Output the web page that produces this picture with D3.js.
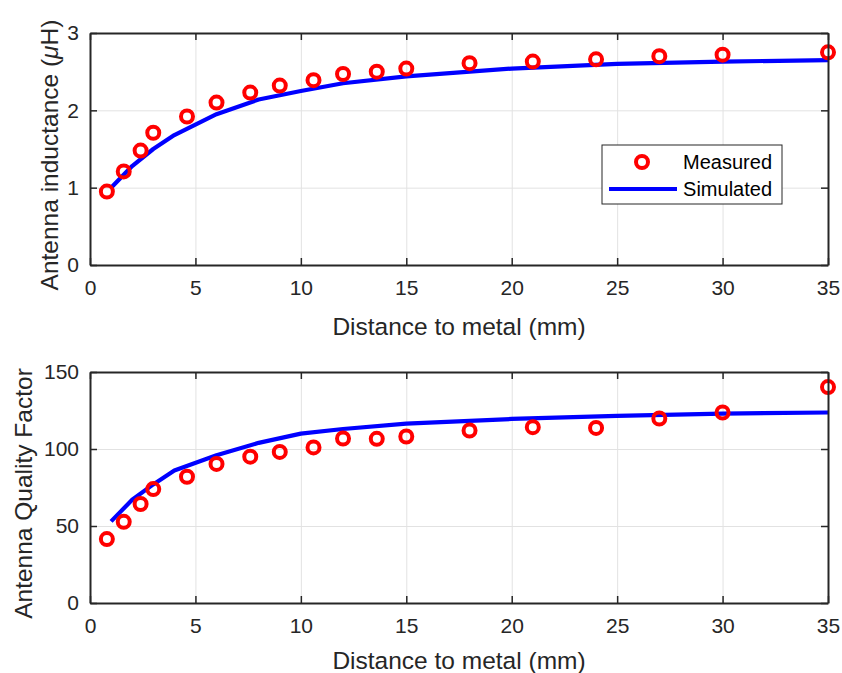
<!DOCTYPE html>
<html>
<head>
<meta charset="utf-8">
<script src="https://cdn.jsdelivr.net/npm/d3@7"></script>
<style>
  body { margin: 0; background: #fff; }
  svg { font-family: "Liberation Sans", Arial, sans-serif; }
</style>
</head>
<body>
<svg id="chart" width="842" height="673"></svg>
<script>
// measured points (mm)
var measDist = [0.8, 1.6, 2.4, 3, 4.6, 6, 7.6, 9, 10.6, 12, 13.6, 15, 18, 21, 24, 27, 30, 35];
var measL = [0.95, 1.21, 1.48, 1.71, 1.92, 2.10, 2.23, 2.32, 2.39, 2.47, 2.50, 2.54, 2.61, 2.63, 2.66, 2.70, 2.72, 2.75];
var measQ = [41.5, 52.7, 64.3, 74, 82, 90.3, 95, 98.1, 101, 106.8, 106.6, 108.1, 112, 114.2, 113.7, 119.8, 123.7, 140.2];

// simulated curve
var simDist = [1, 2, 3, 4, 6, 8, 10, 12, 15, 20, 25, 30, 35];
var simL = [1.0, 1.28, 1.50, 1.68, 1.95, 2.14, 2.25, 2.35, 2.44, 2.54, 2.60, 2.63, 2.65];
var simQ = [53, 67, 77, 86, 96, 104, 110, 113, 116.5, 119.5, 121.5, 123, 123.7];

var xTicks = [0, 5, 10, 15, 20, 25, 30, 35];
var lTicks = [0, 1, 2, 3];
var qTicks = [0, 50, 100, 150];
var legendLabels = ["Measured", "Simulated"];

var axisColor = "#262626";
var fmt = d3.format("d");
var svg = d3.select("#chart");

function zip(xs, ys) {
    return xs.map(function (x, i) { return { x: x, y: ys[i] }; });
}

function drawPanel(p) {
    var w = p.right - p.left, h = p.bottom - p.top;
    var x = d3.scaleLinear().domain([0, 35]).range([0, w]);
    var y = d3.scaleLinear().domain(p.yDomain).range([h, 0]);
    var g = svg.append("g").attr("transform", "translate(" + p.left + "," + p.top + ")");

    // grid
    g.append("g").attr("class", "grid")
        .attr("transform", "translate(0," + h + ")")
        .call(d3.axisBottom(x).tickValues(xTicks).tickSize(-h).tickFormat(""));
    g.append("g").attr("class", "grid")
        .call(d3.axisLeft(y).tickValues(p.yTicks).tickSize(-w).tickFormat(""));
    g.selectAll(".grid .domain").remove();
    g.selectAll(".grid line").attr("stroke", "#e2e2e2").attr("stroke-width", 1);

    // simulated line
    var line = d3.line()
        .x(function (d) { return x(d.x); })
        .y(function (d) { return y(d.y); });
    g.append("path")
        .datum(zip(simDist, p.sim))
        .attr("d", line)
        .attr("fill", "none")
        .attr("stroke", "#0000ff")
        .attr("stroke-width", 4.2)
        .attr("stroke-linejoin", "round");

    // measured markers
    g.selectAll("circle.meas")
        .data(zip(measDist, p.meas))
        .enter().append("circle")
        .attr("class", "meas")
        .attr("cx", function (d) { return x(d.x); })
        .attr("cy", function (d) { return y(d.y); })
        .attr("r", 6)
        .attr("fill", "none")
        .attr("stroke", "#ff0000")
        .attr("stroke-width", 4);

    // axes (ticks inward, mirrored on top/right)
    var ax = [];
    ax.push(g.append("g").attr("transform", "translate(0," + h + ")")
        .call(d3.axisBottom(x).tickValues(xTicks).tickFormat(fmt).tickSize(-7).tickPadding(15).tickSizeOuter(0)));
    ax.push(g.append("g")
        .call(d3.axisLeft(y).tickValues(p.yTicks).tickFormat(fmt).tickSize(-7).tickPadding(11).tickSizeOuter(0)));
    ax.push(g.append("g")
        .call(d3.axisTop(x).tickValues(xTicks).tickSize(-7).tickFormat("").tickSizeOuter(0)));
    ax.push(g.append("g").attr("transform", "translate(" + w + ",0)")
        .call(d3.axisRight(y).tickValues(p.yTicks).tickSize(-7).tickFormat("").tickSizeOuter(0)));
    ax.forEach(function (a) {
        a.select(".domain").attr("stroke", axisColor).attr("stroke-width", 2);
        a.selectAll(".tick line").attr("stroke", axisColor).attr("stroke-width", 1.5);
        a.selectAll(".tick text").attr("fill", axisColor).style("font-size", "21px")
            .style("font-family", "'Liberation Sans', Arial, sans-serif");
    });

    // axis labels
    g.append("text")
        .attr("x", w / 2).attr("y", h + p.xLabelDy)
        .attr("text-anchor", "middle")
        .attr("fill", axisColor)
        .style("font-size", "24.5px")
        .text("Distance to metal (mm)");
    var yl = g.append("text")
        .attr("transform", "translate(" + p.yLabelX + "," + (h / 2 + 6) + ") rotate(-90)")
        .attr("text-anchor", "middle")
        .attr("fill", axisColor)
        .style("font-size", "24.5px");
    p.yLabel(yl);
    return { g: g, x: x, y: y, w: w, h: h };
}

drawPanel({
    left: 90, right: 828, top: 33, bottom: 265,
    yDomain: [0, 3], yTicks: lTicks,
    meas: measL, sim: simL,
    xLabelDy: 70,
    yLabelX: -32,
    yLabel: function (t) {
        t.append("tspan").text("Antenna inductance (");
        t.append("tspan").style("font-style", "italic").text("\u03bc");
        t.append("tspan").text("H)");
    }
});

drawPanel({
    left: 90, right: 828, top: 372, bottom: 603,
    yDomain: [0, 150], yTicks: qTicks,
    meas: measQ, sim: simQ,
    xLabelDy: 66,
    yLabelX: -58,
    yLabel: function (t) { t.text("Antenna Quality Factor"); }
});

// legend in the upper panel
var lg = svg.append("g").attr("transform", "translate(602,145)");
lg.append("rect")
    .attr("width", 180).attr("height", 59)
    .attr("fill", "#fff").attr("stroke", axisColor).attr("stroke-width", 1);
lg.append("circle")
    .attr("cx", 40).attr("cy", 17).attr("r", 6)
    .attr("fill", "none").attr("stroke", "#ff0000").attr("stroke-width", 4);
lg.append("line")
    .attr("x1", 7).attr("x2", 75).attr("y1", 44).attr("y2", 44)
    .attr("stroke", "#0000ff").attr("stroke-width", 4.2);
lg.selectAll("text.leg")
    .data(legendLabels)
    .enter().append("text")
    .attr("class", "leg")
    .attr("x", 170)
    .attr("y", function (d, i) { return 24 + i * 27; })
    .attr("text-anchor", "end")
    .attr("fill", "#000")
    .style("font-size", "20px")
    .text(function (d) { return d; });
</script>
</body>
</html>
